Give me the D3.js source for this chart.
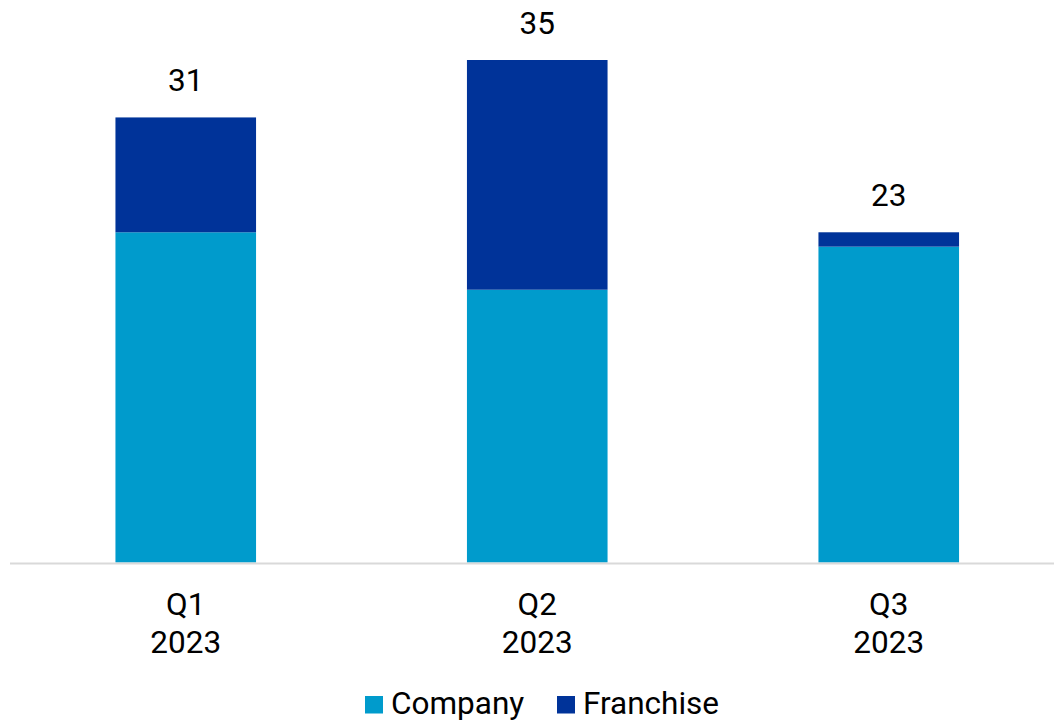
<!DOCTYPE html>
<html>
<head>
<meta charset="utf-8">
<script src="https://cdn.jsdelivr.net/npm/d3@7"></script>
<style>
  html, body { margin: 0; padding: 0; background: #fff; }
  svg { display: block; font-family: Roboto, "Noto Sans", sans-serif; }
</style>
</head>
<body>
<svg id="chart" width="1054" height="721"></svg>
<script>
// Quarterly counts, split by ownership type
const quarters = ["Q1|2023", "Q2|2023", "Q3|2023"];
const company = [23, 19, 22];
const franchise = [8, 16, 1];
const seriesNames = ["Company", "Franchise"];
const seriesColors = ["#009bcc", "#003399"];

const rows = quarters.map((q, i) => ({ quarter: q, Company: company[i], Franchise: franchise[i] }));
const totals = quarters.map((q, i) => company[i] + franchise[i]);

const svg = d3.select("#chart");
const fontSize = 31.5;

const x = d3.scaleBand()
  .domain(quarters)
  .range([10, 1064.5])
  .paddingInner(0.6)
  .paddingOuter(0.3);

const y = d3.scaleLinear()
  .domain([0, 35])
  .range([562.5, 60]);

const stacked = d3.stack().keys(seriesNames)(rows);
const color = d3.scaleOrdinal().domain(seriesNames).range(seriesColors);

// Stacked bars
svg.append("g")
  .selectAll("g")
  .data(stacked)
  .join("g")
  .attr("fill", d => color(d.key))
  .selectAll("rect")
  .data(d => d)
  .join("rect")
  .attr("x", d => x(d.data.quarter))
  .attr("width", x.bandwidth())
  .attr("y", d => y(d[1]))
  .attr("height", d => y(d[0]) - y(d[1]));

// Baseline axis
const xAxis = svg.append("g")
  .attr("transform", `translate(0,${y(0) + 1})`)
  .call(d3.axisBottom(x).tickSize(0).tickFormat(""));
xAxis.select(".domain")
  .attr("stroke", "#d9d9d9")
  .attr("stroke-width", 2)
  .attr("d", `M10,0H1054`);

// Two-line category labels
const labels = svg.append("g")
  .selectAll("text")
  .data(quarters)
  .join("text")
  .attr("text-anchor", "middle")
  .attr("font-size", fontSize)
  .attr("fill", "#000");
labels.each(function (q) {
  const parts = q.split("|");
  const t = d3.select(this);
  parts.forEach((p, k) => {
    t.append("tspan")
      .attr("x", x(q) + x.bandwidth() / 2)
      .attr("y", 615 + k * 38)
      .text(p);
  });
});

// Totals above each stack
svg.append("g")
  .selectAll("text")
  .data(quarters)
  .join("text")
  .attr("x", q => x(q) + x.bandwidth() / 2)
  .attr("y", (q, i) => y(totals[i]) - 26)
  .attr("text-anchor", "middle")
  .attr("font-size", fontSize)
  .attr("fill", "#000")
  .text((q, i) => totals[i]);

// Legend
const legendItems = [
  { name: seriesNames[0], sx: 365, tx: 391 },
  { name: seriesNames[1], sx: 557, tx: 583 }
];
const legend = svg.append("g");
legend.selectAll("rect")
  .data(legendItems)
  .join("rect")
  .attr("x", d => d.sx)
  .attr("y", 696)
  .attr("width", 18)
  .attr("height", 17.5)
  .attr("fill", d => color(d.name));
legend.selectAll("text")
  .data(legendItems)
  .join("text")
  .attr("x", d => d.tx)
  .attr("y", 714)
  .attr("font-size", fontSize)
  .attr("fill", "#000")
  .text(d => d.name);
</script>
</body>
</html>
